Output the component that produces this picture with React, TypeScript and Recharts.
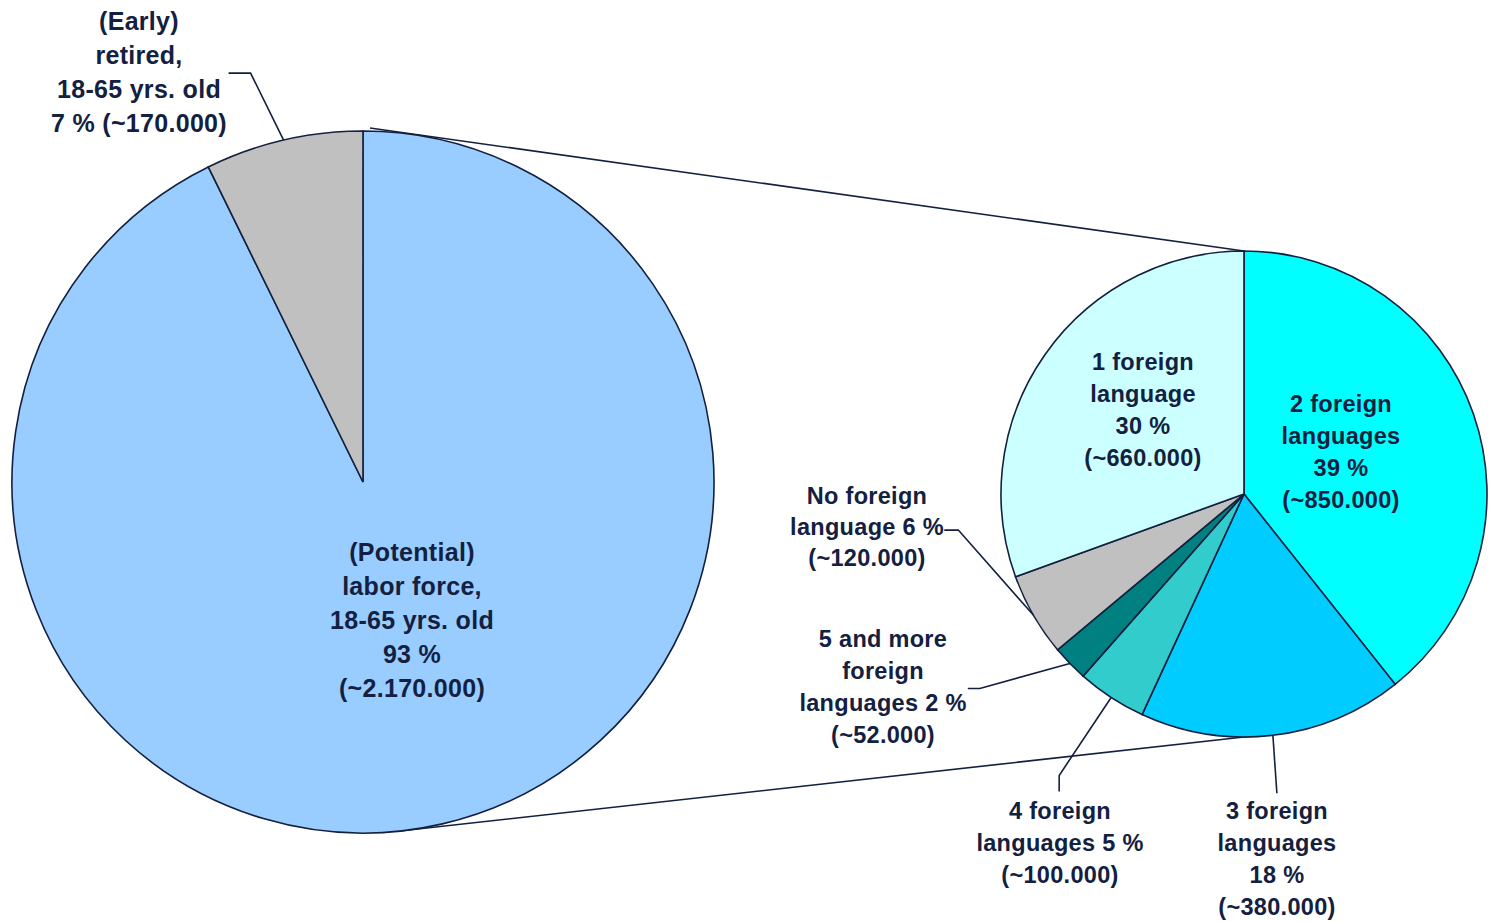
import React from 'react'
import { PieChart, Pie, Cell, Customized } from 'recharts'

// overview pie: population 18-65
const overviewGroups = ['(Potential) labor force', '(Early) retired']
const overviewValues = [2170000, 170000]
const overviewColors = ['#99CCFF', '#C0C0C0']
const overviewLabels = [
  ['(Potential)', 'labor force,', '18-65 yrs. old', '93 %', '(~2.170.000)'],
  ['(Early)', 'retired,', '18-65 yrs. old', '7 % (~170.000)'],
]

// breakdown pie: foreign languages spoken by the labor force
const languageGroups = [
  '2 foreign languages',
  '3 foreign languages',
  '4 foreign languages',
  '5 and more foreign languages',
  'No foreign language',
  '1 foreign language',
]
const languageValues = [850000, 380000, 100000, 52000, 120000, 660000]
const languageColors = ['#00FFFF', '#00CCFF', '#33CCCC', '#008080', '#C0C0C0', '#CCFFFF']
const languageLabels = [
  ['2 foreign', 'languages', '39 %', '(~850.000)'],
  ['3 foreign', 'languages', '18 %', '(~380.000)'],
  ['4 foreign', 'languages 5 %', '(~100.000)'],
  ['5 and more', 'foreign', 'languages 2 %', '(~52.000)'],
  ['No foreign', 'language 6 %', '(~120.000)'],
  ['1 foreign', 'language', '30 %', '(~660.000)'],
]

const overviewData = overviewGroups.map((name, i) => ({ name, value: overviewValues[i] }))
const languageData = languageGroups.map((name, i) => ({ name, value: languageValues[i] }))

const INK = '#13203F'
const FONT = '"Liberation Sans", Arial, Helvetica, sans-serif'

const W = 1491
const H = 922
const BIG = { cx: 363, cy: 482, r: 351 }
const SMALL = { cx: 1244, cy: 494, r: 243 }

type Placement = {
  dx: number // text block centre, relative to pie centre
  dy: number
  lineH: number
  leader?: [number, number][] // points relative to the slice edge at midAngle
}

const overviewPlacement: Placement[] = [
  { dx: 49, dy: 138, lineH: 34 },
  { dx: -224, dy: -410, lineH: 34, leader: [[-33, -67], [-55, -67]] },
]

const languagePlacement: Placement[] = [
  { dx: 97, dy: -42, lineH: 32 },
  { dx: 33, dy: 365, lineH: 32, leader: [[4, 58]] },
  { dx: -184, dy: 349, lineH: 32, leader: [[-52, 78], [-52, 94]] },
  { dx: -361, dy: 193, lineH: 32, leader: [[-90, 25], [-102, 25]] },
  { dx: -377, dy: 33, lineH: 31, leader: [[-75, -85], [-89, -85]] },
  { dx: -101, dy: -84, lineH: 32 },
]

const RAD = Math.PI / 180

function makeLabel(lines: string[][], places: Placement[], fontSize: number) {
  return (props: any) => {
    const { cx, cy, midAngle, outerRadius, index } = props
    const p = places[index]
    const ex = cx + outerRadius * Math.cos(-midAngle * RAD)
    const ey = cy + outerRadius * Math.sin(-midAngle * RAD)
    const tx = cx + p.dx
    const ty = cy + p.dy
    const rows = lines[index]
    const top = ty - ((rows.length - 1) * p.lineH) / 2
    return (
      <g key={`lbl-${index}`}>
        {p.leader && (
          <polyline
            points={[[0, 0], ...p.leader].map(([x, y]) => `${ex + x},${ey + y}`).join(' ')}
            fill="none"
            stroke={INK}
            strokeWidth={1.6}
          />
        )}
        {rows.map((row, i) => (
          <text
            key={i}
            x={tx}
            y={top + i * p.lineH}
            textAnchor="middle"
            dominantBaseline="central"
            fill={INK}
            fontFamily={FONT}
            fontWeight="bold"
            fontSize={fontSize}
            letterSpacing={0.3}
          >
            {row}
          </text>
        ))}
      </g>
    )
  }
}

// lines joining the two pies
function Connectors() {
  const a = 6 * RAD
  return (
    <g>
      <line
        x1={BIG.cx + 7}
        y1={BIG.cy - BIG.r - 3}
        x2={SMALL.cx}
        y2={SMALL.cy - SMALL.r}
        stroke={INK}
        strokeWidth={1.6}
      />
      <line
        x1={BIG.cx + BIG.r * Math.sin(a)}
        y1={BIG.cy + BIG.r * Math.cos(a)}
        x2={SMALL.cx}
        y2={SMALL.cy + SMALL.r}
        stroke={INK}
        strokeWidth={1.6}
      />
    </g>
  )
}

export default function App() {
  return (
    <div style={{ position: 'absolute', left: 0, top: 0, width: W, height: H, background: '#fff' }}>
      <PieChart width={W} height={H} margin={{ top: 0, right: 0, bottom: 0, left: 0 }}>
        <Pie
          data={overviewData}
          dataKey="value"
          cx={BIG.cx}
          cy={BIG.cy}
          outerRadius={BIG.r}
          startAngle={90}
          endAngle={-270}
          stroke={INK}
          strokeWidth={1.6}
          label={makeLabel(overviewLabels, overviewPlacement, 25)}
          labelLine={false}
          isAnimationActive={false}
        >
          {overviewData.map((d, i) => (
            <Cell key={d.name} fill={overviewColors[i]} />
          ))}
        </Pie>
        <Pie
          data={languageData}
          dataKey="value"
          cx={SMALL.cx}
          cy={SMALL.cy}
          outerRadius={SMALL.r}
          startAngle={90}
          endAngle={-270}
          stroke={INK}
          strokeWidth={1.6}
          label={makeLabel(languageLabels, languagePlacement, 23.5)}
          labelLine={false}
          isAnimationActive={false}
        >
          {languageData.map((d, i) => (
            <Cell key={d.name} fill={languageColors[i]} />
          ))}
        </Pie>
        <Customized component={Connectors} />
      </PieChart>
    </div>
  )
}
